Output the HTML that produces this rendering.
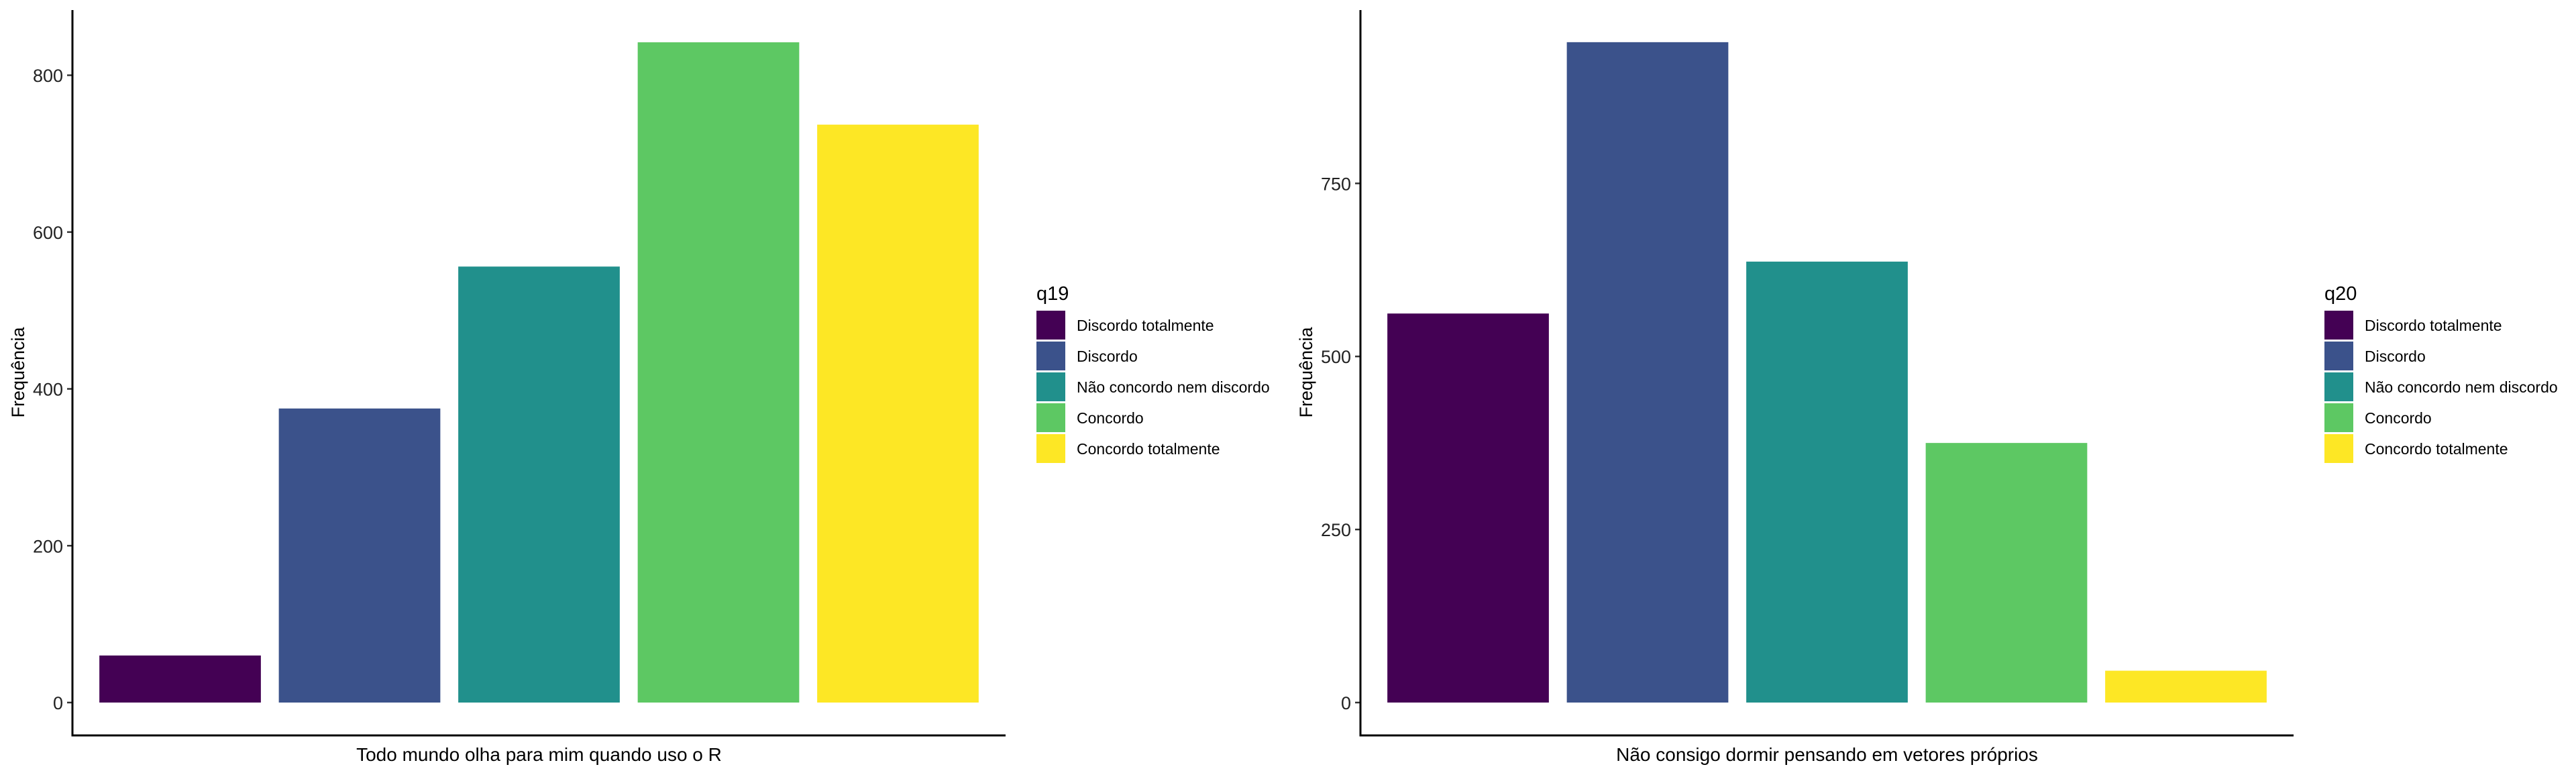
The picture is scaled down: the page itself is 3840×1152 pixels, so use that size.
<!DOCTYPE html>
<html><head><meta charset="utf-8"><style>
html,body{margin:0;padding:0;background:#fff;}
svg{display:block;font-family:"Liberation Sans",Arial,sans-serif;}
</style></head><body>
<svg id="chart" width="3840" height="1152" viewBox="0 0 3840 1152" xmlns="http://www.w3.org/2000/svg"></svg>
<script>
const categories = ["Discordo totalmente","Discordo","Não concordo nem discordo","Concordo","Concordo totalmente"];
const colors = ["#440154","#3B528B","#21908C","#5DC863","#FDE725"];
const q19Values = [60, 375, 556, 842, 737];
const q20Values = [562, 954, 637, 375, 46];
const q19Ticks = [0, 200, 400, 600, 800];
const q20Ticks = [0, 250, 500, 750];
const NS = "http://www.w3.org/2000/svg";
const svg = document.getElementById('chart');
function mk(tag, attrs, parent){const e=document.createElementNS(NS,tag);for(const k in attrs)e.setAttribute(k,attrs[k]);(parent||svg).appendChild(e);return e;}

function panel(ox, values, ticks, yMax, xTitle, legTitle, prefix){
  const g = mk('g',{});
  
  
  const x0 = ox+108, x1 = ox+1499, yBase = 1047, yTop = 15;
  const band = (x1-x0)/(values.length+0.2);
  const yScale = v => yBase - v*yMax;
  const xCenter = i => x0 + (i+0.6)*band;
  values.forEach((v,i)=>{
    const r = mk('rect',{x:xCenter(i)-band*0.45, y:yScale(v), width:band*0.9, height:yBase-yScale(v), fill:colors[i]}, g);
    
    
  });
  ticks.forEach(t=>{
    const y = yScale(t);
    const tl = mk('line',{x1:x0-8,x2:x0,y1:y,y2:y,stroke:'#333','stroke-width':2.5}, g);
    
    
    const tx = mk('text',{x:x0-14,y:y+10,'text-anchor':'end','font-size':27,fill:'#222'}, g);
    tx.textContent = t;
    
    
  });
  const ya = mk('line',{x1:x0,x2:x0,y1:yTop,y2:1097,stroke:'#000','stroke-width':3}, g);
  
  
  const xa = mk('line',{x1:x0-1.5,x2:x1,y1:1096,y2:1096,stroke:'#000','stroke-width':3}, g);
  
  
  const xt = mk('text',{x:(x0+x1)/2,y:1134,'text-anchor':'middle','font-size':28,fill:'#000'}, g);
  xt.textContent = xTitle;
  
  
  const yt = mk('text',{x:0,y:0,'text-anchor':'middle','font-size':27,fill:'#000',transform:`translate(${ox+36},555) rotate(-90)`}, g);
  yt.textContent = 'Frequência';
  
  
  const lt = mk('text',{x:ox+1545,y:447,'font-size':29,fill:'#000'}, g);
  lt.textContent = legTitle;
  
  
  categories.forEach((c,i)=>{
    const y = 463 + i*46;
    const k = mk('rect',{x:ox+1545,y:y,width:43,height:43,fill:colors[i]}, g);
    
    
    const l = mk('text',{x:ox+1605,y:y+30,'font-size':23,fill:'#000'}, g);
    l.textContent = c;
    
    
  });
}
panel(0, q19Values, q19Ticks, 1.1686, 'Todo mundo olha para mim quando uso o R', 'q19', 'q19');
panel(1920, q20Values, q20Ticks, 1.0316, 'Não consigo dormir pensando em vetores próprios', 'q20', 'q20');
</script>
</body></html>
